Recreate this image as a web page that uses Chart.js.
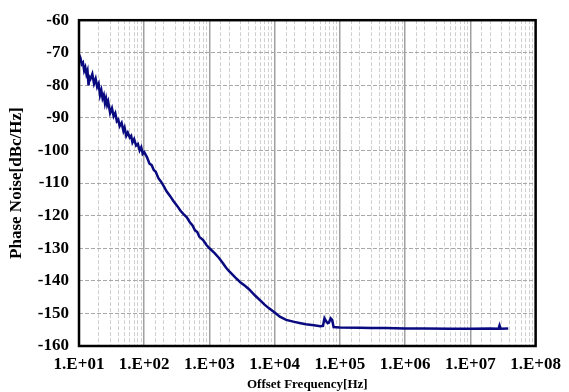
<!DOCTYPE html>
<html>
<head>
<meta charset="utf-8">
<script src="https://cdn.jsdelivr.net/npm/chart.js@4"></script>
<style>
    html, body { margin: 0; padding: 0; background: #fff; }
    #wrap { width: 569px; height: 392px; }
</style>
</head>
<body>
<div id="wrap"><canvas id="noiseChart" width="569" height="392"></canvas></div>
<script>
// Offset frequency in Hz
const freqs = [
    10, 10.5, 11, 11.5, 12, 12.5, 13, 13.5, 14, 14.5, 15, 16, 17, 18, 19, 20,
    21, 22, 23, 24, 25, 26, 27, 28, 30, 32, 34, 36, 38, 40, 42, 45, 48, 50,
    53, 56, 60, 63, 66, 70, 75, 80, 85, 90, 95, 100, 110, 120, 130, 140, 150,
    165, 180, 200, 220, 250, 280, 320, 360, 400, 450, 500, 550, 600, 650, 700,
    800, 900, 1000, 1200, 1400, 1600, 1800, 2000, 2500, 3000, 3500, 4000,
    5000, 6000, 7000, 8000, 10000, 12000, 15000, 20000, 25000, 30000, 40000,
    50000, 55000, 58000, 62000, 65000, 68000, 72000, 76000, 80000, 100000,
    200000, 300000, 500000, 1e6, 2e6, 5e6, 1e7, 2e7, 2.7e7, 2.8e7, 2.9e7, 3.8e7
];

// Phase noise in dBc/Hz
const noise = [
    -70.5, -71.5, -73.5, -73, -75.5, -74.5, -76.5, -75.5, -80, -77.5, -78, -76.5, -79.5, -78, -80.5, -79.5,
    -83, -81.5, -84, -83, -85.5, -84, -86, -85, -88.5, -87, -89.5, -88.5, -91, -90.5, -92.5, -91.5, -94, -93,
    -95.5, -94.5, -96, -95.5, -97.5, -96.5, -98.5, -98, -100, -99, -101, -100.5, -102, -104, -104.5, -106, -106.5,
    -108.5, -109.5, -111, -112.5, -114, -115.5, -117, -118.5, -119.5, -120.5, -122, -123, -124.5, -125, -126.5,
    -127.5, -129, -130, -131.5, -133, -134.5, -136, -137, -139, -140.5, -141.5, -142.5,
    -144.5, -146, -147.3, -148.3, -149.7, -151, -152, -152.6, -153, -153.3, -153.6,
    -153.9, -153.8, -151.5, -152.5, -153, -152.8, -151.5, -152, -154.2, -154.3,
    -154.4, -154.5, -154.5, -154.6, -154.6, -154.7, -154.7, -154.6, -154.7, -153.7, -154.7, -154.6
];

const yTicks = [-160, -150, -140, -130, -120, -110, -100, -90, -80, -70, -60];

const points = freqs.map((f, i) => ({ x: f, y: noise[i] }));
const fontFamily = "'Liberation Serif', 'Times New Roman', serif";

function isDecade(v) {
    const e = Math.log10(v);
    return Math.abs(e - Math.round(e)) < 1e-9;
}

// black frame around the plot area
const framePlugin = {
    id: 'frame',
    afterDraw(chart) {
        const a = chart.chartArea;
        const ctx = chart.ctx;
        ctx.save();
        ctx.strokeStyle = '#000';
        ctx.lineWidth = 2.5;
        ctx.strokeRect(a.left, a.top, a.right - a.left, a.bottom - a.top);
        ctx.restore();
    }
};

new Chart(document.getElementById('noiseChart').getContext('2d'), {
    type: 'line',
    data: {
        datasets: [{
            data: points,
            borderColor: '#0a0a80',
            borderWidth: 2.5,
            pointRadius: 0,
            tension: 0,
            fill: false
        }]
    },
    options: {
        responsive: false,
        animation: false,
        layout: { padding: { top: 20, right: 29, left: 0, bottom: 0 } },
        plugins: { legend: { display: false }, tooltip: { enabled: false } },
        scales: {
            x: {
                type: 'logarithmic',
                min: 10,
                max: 1e8,
                afterFit(scale) { scale.height = 46; },
                grid: {
                    drawTicks: false,
                    color: ctx => (ctx.tick && isDecade(ctx.tick.value)) ? '#a0a0a0' : '#cfcfcf',
                    lineWidth: ctx => (ctx.tick && isDecade(ctx.tick.value)) ? 1.5 : 1
                },
                border: {
                    display: false,
                    dash: ctx => (ctx.tick && isDecade(ctx.tick.value)) ? [] : [4, 2]
                },
                ticks: {
                    autoSkip: false,
                    maxRotation: 0,
                    padding: 8,
                    color: '#000',
                    font: { family: fontFamily, size: 17, weight: 'bold' },
                    callback: function(value) {
                        if (!isDecade(value)) return '';
                        const e = Math.round(Math.log10(value));
                        return '1.E+' + String(e).padStart(2, '0');
                    }
                },
                title: {
                    display: true,
                    text: 'Offset Frequency[Hz]',
                    color: '#000',
                    padding: { top: -2, bottom: 0 },
                    font: { family: fontFamily, size: 13, weight: 'bold' }
                }
            },
            y: {
                min: -160,
                max: -60,
                afterFit(scale) { scale.width = 79; },
                afterBuildTicks(scale) { scale.ticks = yTicks.map(v => ({ value: v })); },
                grid: {
                    drawTicks: false,
                    color: '#a8a8a8',
                    lineWidth: 1
                },
                border: { display: false, dash: [4, 2] },
                ticks: {
                    padding: 10,
                    color: '#000',
                    font: { family: fontFamily, size: 17, weight: 'bold' }
                },
                title: {
                    display: true,
                    text: 'Phase Noise[dBc/Hz]',
                    color: '#000',
                    padding: { top: 6, bottom: 0 },
                    font: { family: fontFamily, size: 17, weight: 'bold' }
                }
            }
        }
    },
    plugins: [framePlugin]
});
</script>
</body>
</html>
